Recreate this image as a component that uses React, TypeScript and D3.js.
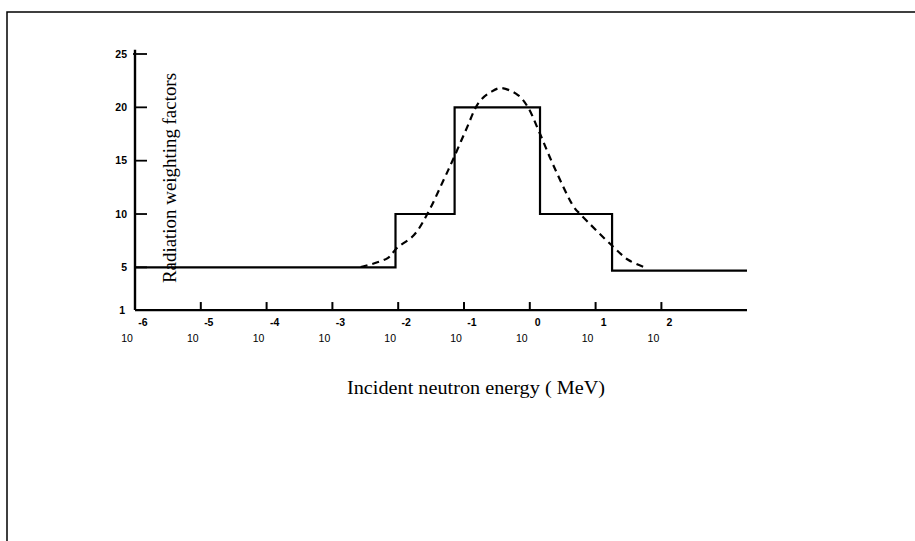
import React from "react";
import * as d3 from "d3";

// Data
const yTicks = [1, 5, 10, 15, 20, 25];
const xTickExponents = [-6, -5, -4, -3, -2, -1, 0, 1, 2];

// Step function (ICRP-like radiation weighting factors), energies in MeV
const stepEdges = [1e-6, 0.0091, 0.072, 1.43, 17.8, 2000];
const stepValues = [5, 10, 20, 10, 4.7];

// Dashed continuous curve: log10(E/MeV) and value
const dashLogE = [-2.57, -2.16, -2.02, -1.76, -1.55, -1.31, -1.17, -0.97, -0.77, -0.59, -0.44, -0.18, -0.03, 0.13, 0.37, 0.67, 0.78, 1.24, 1.5, 1.77];
const dashValues = [5.03, 5.87, 6.81, 8.03, 10.09, 13.19, 15.06, 17.88, 20.5, 21.44, 21.81, 21.15, 20.03, 17.88, 14.41, 10.66, 9.91, 7.09, 5.69, 4.94];

export default function App() {
  const x = d3.scaleLog().domain([1e-6, 2000]).range([135, 747]);
  const y = d3.scaleLinear().domain([0, 25]).range([320.7, 54]);

  const stepPts: [number, number][] = stepEdges.map((e, i) => [e, stepValues[Math.min(i, stepValues.length - 1)]]);
  const stepLine = d3
    .line<[number, number]>()
    .x((d) => x(d[0]))
    .y((d) => y(d[1]))
    .curve(d3.curveStepAfter);

  const dashPts: [number, number][] = dashLogE.map((e, i) => [Math.pow(10, e), dashValues[i]]);
  const dashLine = d3
    .line<[number, number]>()
    .x((d) => x(d[0]))
    .y((d) => y(d[1]))
    .curve(d3.curveCatmullRom.alpha(0.5));

  const x0 = x(1e-6);
  const yBase = y(1);
  const tickFont = "Arial, 'Liberation Sans', sans-serif";
  const serif = "'Times New Roman', 'Liberation Serif', serif";

  return (
    <svg
      width={915}
      height={541}
      style={{ position: "absolute", left: 0, top: 0, background: "#fff" }}
    >
      {/* frame */}
      <path d="M7,541 L7,12 L915,12" fill="none" stroke="#000" strokeWidth={1.5} />

      {/* y axis */}
      <line x1={x0} x2={x0} y1={y(25.4)} y2={yBase} stroke="#000" strokeWidth={2.4} />
      {yTicks.map((t) => (
        <g key={t}>
          {t !== 1 && (
            <line x1={t === 25 ? x0 - 2 : x0} x2={x0 + 12} y1={y(t)} y2={y(t)} stroke="#000" strokeWidth={1.8} />
          )}
          <text
            x={t === 1 ? 125 : 127}
            y={y(t)}
            dy="0.35em"
            textAnchor="end"
            fontFamily={tickFont}
            fontWeight="bold"
            fontSize={10.5}
          >
            {t}
          </text>
        </g>
      ))}

      {/* x axis */}
      <line x1={x0} x2={x(2000)} y1={yBase} y2={yBase} stroke="#000" strokeWidth={2.2} />
      {xTickExponents.map((e) => {
        const px = x(Math.pow(10, e));
        return (
          <g key={e}>
            {e !== -6 && <line x1={px} x2={px} y1={yBase} y2={yBase - 8} stroke="#000" strokeWidth={2} />}
            <text x={px + 8} y={326} textAnchor="middle" fontFamily={tickFont} fontWeight="bold" fontSize={10.5}>
              {e}
            </text>
            <text x={px - 8} y={342} textAnchor="middle" fontFamily={tickFont} fontSize={10.5}>
              10
            </text>
          </g>
        );
      })}

      {/* step function */}
      <path d={stepLine(stepPts) || ""} fill="none" stroke="#000" strokeWidth={2.2} />

      {/* dashed curve */}
      <path d={dashLine(dashPts) || ""} fill="none" stroke="#000" strokeWidth={2.2} strokeDasharray="7,5" />

      {/* axis titles */}
      <text
        transform="translate(176,178) rotate(-90)"
        textAnchor="middle"
        fontFamily={serif}
        fontSize={18}
        textLength={210}
        lengthAdjust="spacingAndGlyphs"
      >
        Radiation weighting factors
      </text>
      <text
        x={476}
        y={394}
        textAnchor="middle"
        fontFamily={serif}
        fontSize={18}
        textLength={258}
        lengthAdjust="spacingAndGlyphs"
      >
        Incident neutron energy ( MeV)
      </text>
    </svg>
  );
}
